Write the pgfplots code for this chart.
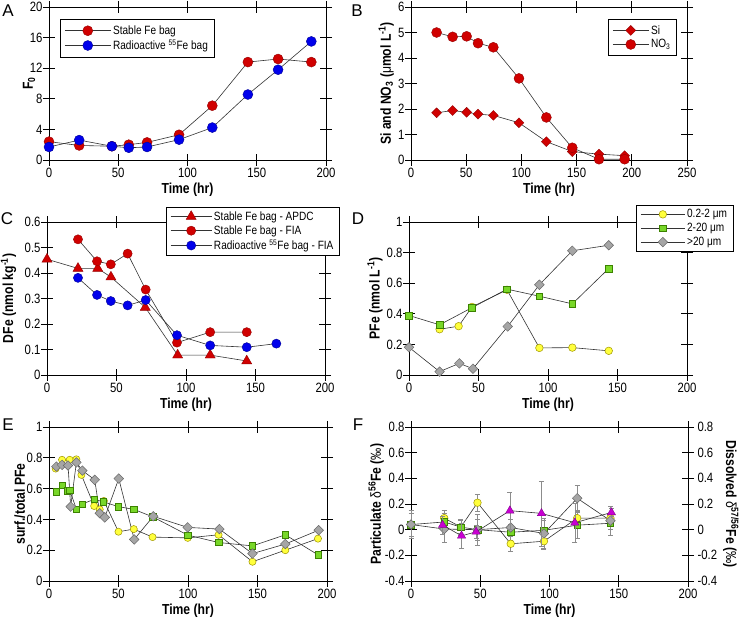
\documentclass[border=0pt]{standalone}
\usepackage{fontspec}
\setmainfont{Liberation Sans}[FakeStretch=0.84]
\newfontfamily\letterfont{Liberation Sans}
\usepackage{pgfplots}
\pgfplotsset{compat=1.18}
\definecolor{myred}{RGB}{208,0,0}
\definecolor{myredd}{RGB}{150,0,0}
\definecolor{myblue}{RGB}{0,0,235}
\definecolor{myblued}{RGB}{0,0,150}
\definecolor{myyel}{RGB}{255,255,60}
\definecolor{myyeld}{RGB}{160,150,0}
\definecolor{mygrn}{RGB}{120,215,40}
\definecolor{mygrnd}{RGB}{60,130,0}
\definecolor{mygry}{RGB}{165,165,165}
\definecolor{mygryd}{RGB}{105,105,105}
\definecolor{mymag}{RGB}{200,0,210}
\definecolor{mymagd}{RGB}{130,0,140}
\newcommand{\tickfont}{\fontsize{13.5}{15}\selectfont}
\newcommand{\labfont}{\bfseries\fontsize{14.5}{16}\selectfont}
\newcommand{\legfont}{\fontsize{12}{13}\selectfont}
\pgfplotsset{
  panel/.style={
    scale only axis, clip=false,
    axis line style={line width=0.8pt},
    every tick/.style={black, line width=0.8pt},
    tick align=center, major tick length=12pt,
    ticklabel style={font=\tickfont},
    yticklabel style={xshift=3pt},
    xticklabel style={yshift=1pt},
    /pgf/number format/assume math mode=true,
    xlabel={Time (hr)},
    every axis x label/.style={font=\labfont, at={(axis description cs:0.5,-0.196)}, anchor=center},
    legend style={draw=black, line width=0.8pt, fill=white, font=\legfont, anchor=north west,
      inner xsep=4pt, inner ysep=4pt, row sep=0pt},
    legend cell align=left,
  },
  ebars/.style={
    error bars/y dir=both, error bars/y explicit,
    error bars/error bar style={draw=black!45, line width=0.6pt},
    error bars/error mark options={rotate=90, draw=black!45, mark size=2.5pt, line width=0.6pt}},
  ylab/.style={every axis y label/.style={font=\labfont, at={(axis description cs:#1,0.5)}, rotate=90, anchor=center}},
  ln/.style={draw=black!80, line width=0.6pt},
  redc/.style={ln, mark=*, mark size=5pt, mark options={draw=myredd, fill=myred, line width=0.4pt}},
  bluec/.style={ln, mark=*, mark size=5pt, mark options={draw=myblued, fill=myblue, line width=0.4pt}},
  redt/.style={ln, mark=triangle*, mark size=5.8pt, mark options={draw=myredd, fill=myred, line width=0.4pt}},
  redd/.style={ln, mark=square*, mark size=3.5pt, mark options={rotate=45, draw=myredd, fill=myred, line width=0.4pt}},
  yelc/.style={ln, mark=*, mark size=3.8pt, mark options={draw=myyeld, fill=myyel, line width=0.5pt}},
  grns/.style={ln, mark=square*, mark size=3.3pt, mark options={draw=mygrnd, fill=mygrn, line width=0.5pt}},
  gryd/.style={ln, mark=square*, mark size=3.4pt, mark options={rotate=45, draw=mygryd, fill=mygry, line width=0.5pt}},
  magt/.style={ln, mark=triangle*, mark size=4.8pt, mark options={draw=mymagd, fill=mymag, line width=0.4pt}},
}
\begin{document}
\begin{tikzpicture}[x=1pt,y=1pt]
\useasboundingbox (0,0) rectangle (740,619);

% ---------------- A ----------------
\begin{axis}[panel, ylab=-0.072, at={(49pt,459pt)}, anchor=south west, width=277pt, height=153pt,
  xmin=0, xmax=200, ymin=0, ymax=20, xtick={0,50,...,200}, ytick={0,4,...,20},
  ylabel={F\textsubscript{0}},
  legend style={at={(0.04,0.92)}},
  legend image code/.code={\draw[mark repeat=2,mark phase=2,#1] plot coordinates {(0pt,0pt) (23pt,0pt) (46pt,0pt)};}]
\addplot[redc] coordinates {(0,2.4) (21.8,1.9) (45.4,1.8) (57.6,2.0) (70.8,2.3) (93.9,3.3) (117.9,7.1) (143.6,12.8) (165.4,13.2) (189.4,12.8)};
\addlegendentry{Stable Fe bag}
\addplot[bluec] coordinates {(0,1.7) (21.8,2.6) (45.4,1.8) (57.6,1.6) (70.8,1.7) (93.9,2.66) (117.9,4.24) (143.6,8.56) (165.4,11.8) (189.4,15.5)};
\addlegendentry{Radioactive \textsuperscript{55}Fe bag}
\end{axis}

% ---------------- B ----------------
\begin{axis}[panel, ylab=-0.09, at={(411pt,459pt)}, anchor=south west, width=276pt, height=153pt,
  xmin=0, xmax=250, ymin=0, ymax=6, xtick={0,50,...,250}, ytick={0,1,...,6},
  ylabel={Si and NO\textsubscript{3} ({\mdseries μ}mol L\textsuperscript{-1})},
  legend style={at={(0.714,0.922)}},
  legend image code/.code={\draw[mark repeat=2,mark phase=2,#1] plot coordinates {(0pt,0pt) (18pt,0pt) (36pt,0pt)};}]
\addplot[redd] coordinates {(23.2,1.85) (37.7,1.94) (50.4,1.87) (60.7,1.80) (74.6,1.75) (97.8,1.46) (122.6,0.72) (146.1,0.33) (170.3,0.23) (193.5,0.17)};
\addlegendentry{Si}
\addplot[redc] coordinates {(23.2,5.0) (37.7,4.83) (50.4,4.85) (60.7,4.58) (74.6,4.42) (97.8,3.20) (122.6,1.67) (146.1,0.48) (170.3,0.03) (193.5,0.03)};
\addlegendentry{NO\textsubscript{3}}
\end{axis}

% ---------------- C ----------------
\begin{axis}[panel, ylab=-0.1385, at={(47pt,244pt)}, anchor=south west, width=278pt, height=153pt,
  xmin=0, xmax=200, ymin=0, ymax=0.6, xtick={0,50,...,200}, ytick={0,0.1,0.2,0.3,0.4,0.5,0.6},
  ylabel={DFe (nmol kg\textsuperscript{-1})},
  legend style={at={(0.428,1.098)}, inner ysep=2pt},
  legend image code/.code={\draw[mark repeat=2,mark phase=2,#1] plot coordinates {(0pt,0pt) (20.5pt,0pt) (41pt,0pt)};}]
\addplot[redt] coordinates {(0,0.454) (22.3,0.418) (36.5,0.418) (46,0.384) (70.7,0.265) (94,0.078) (117.4,0.078) (143.7,0.055)};
\addlegendentry{Stable Fe bag - APDC}
\addplot[redc, mark size=4.6pt] coordinates {(22.3,0.532) (36,0.446) (45.9,0.434) (58,0.476) (71,0.335) (93.5,0.127) (117.4,0.168) (143.7,0.168)};
\addlegendentry{Stable Fe bag - FIA}
\addplot[bluec, mark size=4.6pt] coordinates {(22.3,0.381) (36,0.314) (45.9,0.290) (58,0.273) (71,0.294) (93.5,0.156) (117.4,0.116) (143.7,0.109) (165,0.123)};
\addlegendentry{Radioactive \textsuperscript{55}Fe bag - FIA}
\end{axis}

% ---------------- D ----------------
\begin{axis}[panel, ylab=-0.122, at={(409pt,244pt)}, anchor=south west, width=278pt, height=153pt,
  xmin=0, xmax=200, ymin=0, ymax=1, xtick={0,50,...,200}, ytick={0,0.2,0.4,0.6,0.8,1},
  ylabel={PFe (nmol L\textsuperscript{-1})},
  legend style={at={(0.817,1.111)}, inner ysep=2pt},
  legend image code/.code={\draw[mark repeat=2,mark phase=2,#1] plot coordinates {(0pt,0pt) (22pt,0pt) (44pt,0pt)};}]
\addplot[yelc] coordinates {(22,0.299) (35.7,0.319) (45.3,0.445) (70.5,0.557) (93.8,0.177) (117.5,0.179) (143.7,0.158)};
\addlegendentry{0.2-2 μm}
\addplot[grns] coordinates {(0,0.389) (22,0.328) (45.3,0.44) (70.5,0.561) (93.8,0.515) (117.5,0.465) (143.7,0.696)};
\addlegendentry{2-20 μm}
\addplot[gryd] coordinates {(0,0.181) (22,0.022) (36.2,0.076) (46,0.041) (71,0.317) (93.8,0.59) (117.5,0.812) (143.7,0.848)};
\addlegendentry{>20 μm}
\end{axis}

% ---------------- E ----------------
\begin{axis}[panel, ylab=-0.105, at={(49pt,38pt)}, anchor=south west, width=278pt, height=154pt,
  xmin=0, xmax=200, ymin=0, ymax=1, xtick={0,50,...,200}, ytick={0,0.2,0.4,0.6,0.8,1},
  ylabel={surf./total PFe}]
\addplot[yelc, mark size=3.6pt] coordinates {(4.8,0.73) (9.4,0.787) (14.9,0.787) (19.7,0.79) (23.3,0.689) (32.5,0.487) (36.5,0.465) (39.5,0.52) (50,0.32) (61,0.337) (74.5,0.285) (99.8,0.28) (122,0.30) (146.4,0.125) (170,0.2) (193.5,0.275)};
\addplot[grns, mark size=3.2pt] coordinates {(5.3,0.58) (9.4,0.62) (13.2,0.587) (14.9,0.59) (19.7,0.467) (23.8,0.50) (32.5,0.53) (38.9,0.515) (49.8,0.483) (61.1,0.465) (74.5,0.417) (99.8,0.298) (122,0.25) (146.4,0.228) (170,0.30) (193.5,0.17)};
\addplot[gryd] coordinates {(5.3,0.743) (9.4,0.754) (13.7,0.75) (15.6,0.483) (19.7,0.77) (24,0.717) (32.9,0.657) (36.5,0.44) (40.1,0.413) (50.2,0.665) (61.3,0.27) (75,0.42) (99.8,0.348) (122.6,0.337) (146.4,0.178) (170,0.24) (194,0.33)};
\end{axis}

% ---------------- F ----------------
\begin{axis}[panel, ebars, ylab=-0.126, at={(411pt,38pt)}, anchor=south west, width=277pt, height=154pt,
  xmin=0, xmax=200, ymin=-0.4, ymax=0.8, xtick={0,50,...,200}, ytick={-0.4,-0.2,0,0.2,0.4,0.6,0.8},
  ytick pos=left,
  ylabel={Particulate {\mdseries δ}\textsuperscript{56}Fe ({\mdseries ‰})}]
\addplot[yelc] coordinates {(24,0.09) +- (0,0.06) (36,0.02) +- (0,0.06) (48,0.21) +- (0,0.065) (72,-0.11) +- (0,0.055) (96,-0.09) +- (0,0.055) (120,0.09) +- (0,0.06) (144,0.09) +- (0,0.04)};
\addplot[grns] coordinates {(0,0.04) +- (0,0.09) (24,0.06) +- (0,0.07) (36,0.02) +- (0,0.05) (48,0.0) +- (0,0.08) (72,-0.02) +- (0,0.06) (96,-0.005) +- (0,0.08) (120,0.035) +- (0,0.1) (144,0.05) +- (0,0.05)};
\addplot[gryd] coordinates {(0,0.04) +- (0,0.11) (24,0.005) +- (0,0.105) (48,0.0) +- (0,0.12) (72,0.017) +- (0,0.06) (96,-0.03) +- (0,0.12) (120,0.245) +- (0,0.1) (144,0.07) +- (0,0.11)};
\end{axis}
\begin{axis}[panel, ebars, at={(411pt,38pt)}, anchor=south west, width=277pt, height=154pt,
  xmin=0, xmax=200, ymin=-0.4, ymax=0.8, axis x line=none, axis y line*=right,
  ytick={-0.4,-0.2,0,0.2,0.4,0.6,0.8}, xlabel={},
  yticklabel style={xshift=-3pt},
  ylabel={Dissolved {\mdseries δ}\textsuperscript{57/56}Fe ({\mdseries ‰})},
  every axis y label/.style={font=\labfont, at={(axis description cs:1.155,0.5)}, rotate=-90, anchor=center}]
\addplot[magt] coordinates {(22.8,0.036) +- (0,0.07) (36.5,-0.048) +- (0,0.1) (47,-0.017) +- (0,0.05) (71.4,0.148) +- (0,0.147) (94.2,0.127) +- (0,0.253) (118.3,0.054) +- (0,0.15) (144.7,0.134) +- (0,0.03)};
\end{axis}

% panel letters
\node[font=\letterfont\fontsize{17}{18}\selectfont] at (8,608) {A};
\node[font=\letterfont\fontsize{17}{18}\selectfont] at (357,608) {B};
\node[font=\letterfont\fontsize{17}{18}\selectfont] at (7,400) {C};
\node[font=\letterfont\fontsize{17}{18}\selectfont] at (358,400) {D};
\node[font=\letterfont\fontsize{17}{18}\selectfont] at (8,194) {E};
\node[font=\letterfont\fontsize{17}{18}\selectfont] at (358,194) {F};
\end{tikzpicture}
\end{document}
